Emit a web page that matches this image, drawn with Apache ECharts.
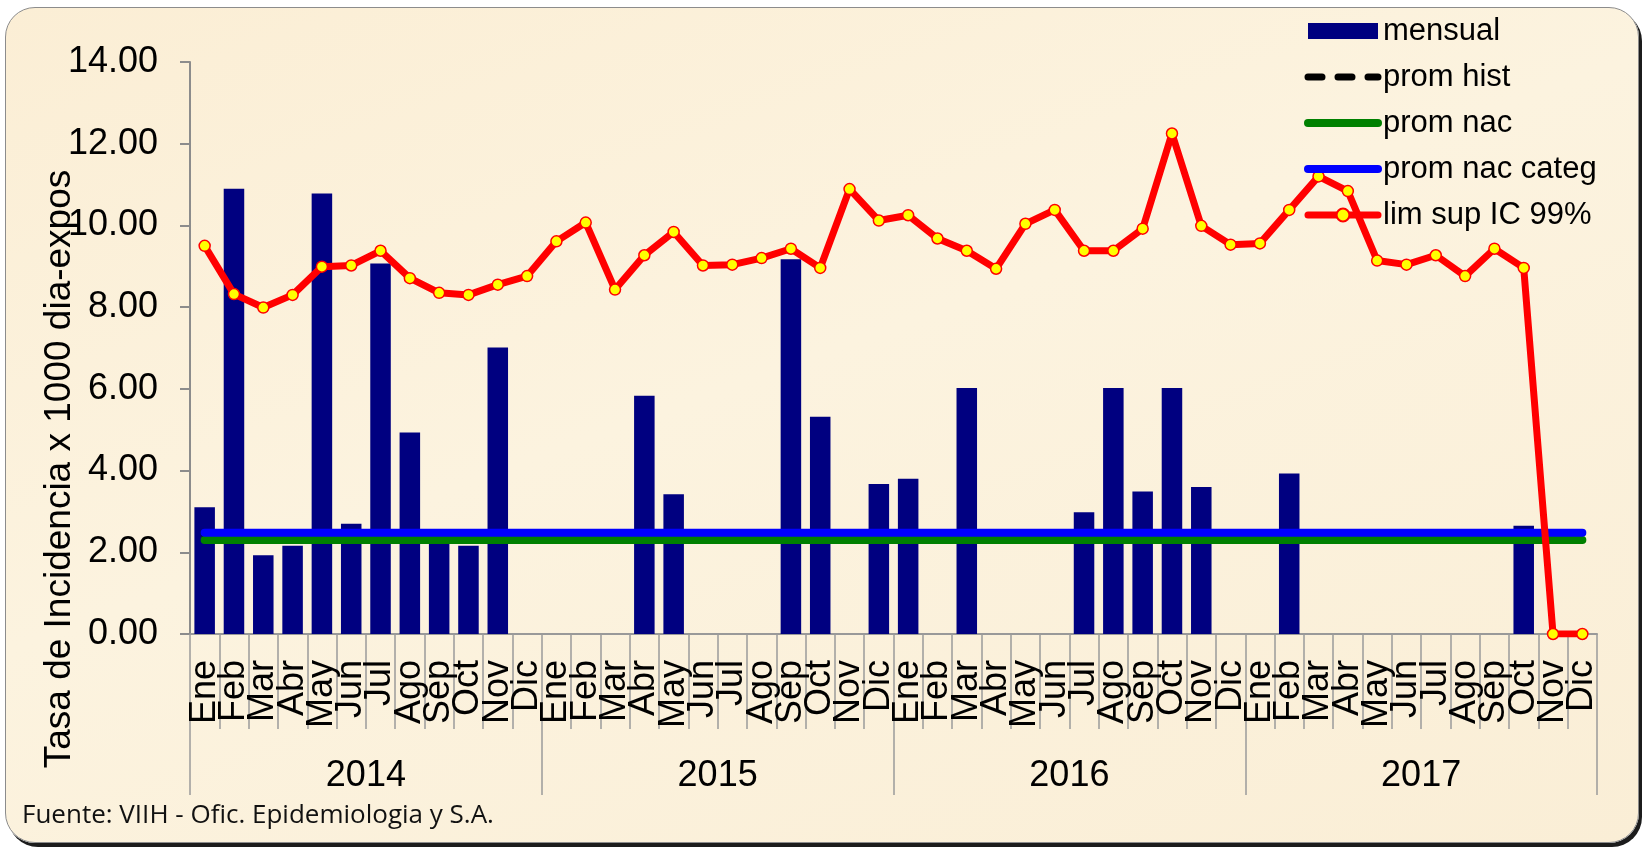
<!DOCTYPE html>
<html style="height: 100%">
<head>
<meta charset="utf-8">
<script src="https://cdn.jsdelivr.net/npm/echarts@6/dist/echarts.min.js"></script>
<style>
  html, body { margin: 0; height: 100%; background: #ffffff; }
  #frame {
    position: absolute; left: 5px; top: 7px; width: 1632px; height: 834px;
    border: 1.5px solid #8c8c8c; border-radius: 30px;
    box-shadow: 3px 4px 0 #1c1c1c;
    background: linear-gradient(160deg, #fbeed5 0%, #fcf3df 45%, #faeed6 100%);
  }
  #container { position: absolute; left: 0; top: 0; width: 1647px; height: 852px; }
</style>
</head>
<body>
<div id="frame"></div>
<div id="container"></div>
<script type="text/javascript">

// month categories, 4 years
var meses = ['Ene','Feb','Mar','Abr','May','Jun','Jul','Ago','Sep','Oct','Nov','Dic',
             'Ene','Feb','Mar','Abr','May','Jun','Jul','Ago','Sep','Oct','Nov','Dic',
             'Ene','Feb','Mar','Abr','May','Jun','Jul','Ago','Sep','Oct','Nov','Dic',
             'Ene','Feb','Mar','Abr','May','Jun','Jul','Ago','Sep','Oct','Nov','Dic'];
var anios = ['2014', '2015', '2016', '2017'];

// tasa mensual (0 = sin casos)
var mensual = [3.10, 10.90, 1.93, 2.16, 10.78, 2.70, 9.07, 4.93, 2.40, 2.16, 7.01, 0,
               0, 0, 0, 5.83, 3.42, 0, 0, 0, 9.17, 5.32, 0, 3.67,
               3.80, 0, 6.02, 0, 0, 0, 2.98, 6.02, 3.49, 6.02, 3.60, 0,
               0, 3.93, 0, 0, 0, 0, 0, 0, 0, 2.65, 0, 0];

// limite superior IC 99%
var limSup = [9.50, 8.32, 7.99, 8.30, 8.99, 9.02, 9.38, 8.71, 8.35, 8.30, 8.55, 8.76,
              9.61, 10.07, 8.43, 9.27, 9.84, 9.02, 9.04, 9.20, 9.43, 8.96, 10.89, 10.12,
              10.25, 9.68, 9.38, 8.94, 10.04, 10.38, 9.38, 9.38, 9.92, 12.25, 9.99, 9.53,
              9.56, 10.38, 11.20, 10.84, 9.14, 9.04, 9.27, 8.76, 9.43, 8.96, 0, 0];

// promedios (constantes)
var promHist = 2.45;
var promNac = 2.30;
var promNacCateg = 2.48;

var yTicks = [0, 2, 4, 6, 8, 10, 12, 14];

var dom = document.getElementById("container");
var myChart = echarts.init(dom);

var txt = { fontFamily: 'Liberation Sans, Arial, sans-serif', color: '#000' };
var noSymbol = { opacity: 0 };

var option = {
    animation: false,
    textStyle: txt,
    grid: { left: 190, right: 50, top: 62, bottom: 218 },
    legend: {
        orient: 'vertical',
        left: 1299,
        top: 8,
        itemWidth: 70,
        itemHeight: 16,
        itemGap: 10,
        lineStyle: { width: 'inherit', cap: 'round' },
        textStyle: { fontSize: 31, lineHeight: 36, color: '#000', fontFamily: txt.fontFamily },
        data: [
            { name: 'mensual', icon: 'rect' },
            { name: 'prom hist', itemStyle: noSymbol },
            { name: 'prom nac', itemStyle: noSymbol },
            { name: 'prom nac categ', itemStyle: noSymbol },
            { name: 'lim sup IC 99%' }
        ]
    },
    xAxis: [
        {
            type: 'category',
            data: meses,
            position: 'bottom',
            axisLine: { lineStyle: { color: '#999', width: 2 } },
            axisTick: { show: true, interval: 0, length: 95, lineStyle: { color: '#9a9a9a', width: 1.5 } },
            axisLabel: { interval: 0, rotate: 90, fontSize: 36, margin: 26, color: '#000' }
        },
        {
            type: 'category',
            data: anios,
            position: 'bottom',
            axisLine: { show: false },
            axisTick: { show: true, interval: 0, length: 161, lineStyle: { color: '#9a9a9a', width: 1.5 } },
            axisLabel: { interval: 0, fontSize: 36, margin: 124, color: '#000' }
        }
    ],
    yAxis: {
        type: 'value',
        min: yTicks[0],
        max: yTicks[yTicks.length - 1],
        interval: 2,
        axisLine: { show: true, lineStyle: { color: '#8c8c8c', width: 2 } },
        axisTick: { show: true, length: 10, lineStyle: { color: '#8c8c8c', width: 2 } },
        splitLine: { show: false },
        axisLabel: {
            fontSize: 36, margin: 32, color: '#000',
            formatter: function (v) { return v.toFixed(2); }
        }
    },
    graphic: [
        {
            type: 'text', x: 60, y: 469, rotation: Math.PI / 2,
            style: {
                text: 'Tasa de Incidencia x 1000 dia-expos',
                fontSize: 37, fontFamily: txt.fontFamily, fill: '#000',
                align: 'center', verticalAlign: 'middle'
            }
        },
        {
            type: 'text', x: 22, y: 816,
            style: {
                text: 'Fuente: VIIH - Ofic. Epidemiologia y S.A.',
                fontSize: 26, fontFamily: 'Open Sans, sans-serif', fill: '#111',
                align: 'left', verticalAlign: 'middle'
            }
        }
    ],
    series: [
        {
            name: 'mensual',
            type: 'bar',
            data: mensual,
            barCategoryGap: '30%',
            itemStyle: { color: '#000080' }
        },
        {
            name: 'prom hist',
            type: 'line',
            data: meses.map(function () { return promHist; }),
            symbol: 'none',
            lineStyle: { color: '#000', width: 7, type: [14, 16], cap: 'round' }
        },
        {
            name: 'prom nac',
            type: 'line',
            data: meses.map(function () { return promNac; }),
            symbol: 'none',
            lineStyle: { color: '#008000', width: 8, cap: 'round' }
        },
        {
            name: 'prom nac categ',
            type: 'line',
            data: meses.map(function () { return promNacCateg; }),
            symbol: 'none',
            lineStyle: { color: '#0000ff', width: 8, cap: 'round' }
        },
        {
            name: 'lim sup IC 99%',
            type: 'line',
            data: limSup,
            symbol: 'circle',
            symbolSize: 11,
            itemStyle: { color: '#ffff00', borderColor: '#ff0000', borderWidth: 1.5 },
            lineStyle: { color: '#ff0000', width: 7, cap: 'round', join: 'round' }
        }
    ]
};

myChart.setOption(option);

</script>
</body>
</html>
